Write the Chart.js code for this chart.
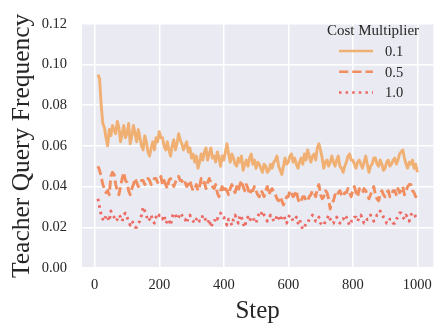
<!DOCTYPE html>
<html>
<head>
<meta charset="utf-8">
<script src="https://cdn.jsdelivr.net/npm/chart.js@4"></script>
<style>
  html, body { margin: 0; padding: 0; background: #fff; }
  #wrap { width: 440px; height: 330px; }
</style>
</head>
<body>
<div id="wrap"><canvas id="chart" width="440" height="330"></canvas></div>
<script>
/* Teacher query frequency vs step, per cost multiplier */

const steps = [
  10, 15, 20, 25, 30, 35, 40, 45, 50, 55,
  60, 65, 70, 75, 80, 85, 90, 95, 100, 105,
  110, 115, 120, 125, 130, 135, 140, 145, 150, 155,
  160, 165, 170, 175, 180, 185, 190, 195, 200, 205,
  210, 215, 220, 225, 230, 235, 240, 245, 250, 255,
  260, 265, 270, 275, 280, 285, 290, 295, 300, 305,
  310, 315, 320, 325, 330, 335, 340, 345, 350, 355,
  360, 365, 370, 375, 380, 385, 390, 395, 400, 405,
  410, 415, 420, 425, 430, 435, 440, 445, 450, 455,
  460, 465, 470, 475, 480, 485, 490, 495, 500, 505,
  510, 515, 520, 525, 530, 535, 540, 545, 550, 555,
  560, 565, 570, 575, 580, 585, 590, 595, 600, 605,
  610, 615, 620, 625, 630, 635, 640, 645, 650, 655,
  660, 665, 670, 675, 680, 685, 690, 695, 700, 705,
  710, 715, 720, 725, 730, 735, 740, 745, 750, 755,
  760, 765, 770, 775, 780, 785, 790, 795, 800, 805,
  810, 815, 820, 825, 830, 835, 840, 845, 850, 855,
  860, 865, 870, 875, 880, 885, 890, 895, 900, 905,
  910, 915, 920, 925, 930, 935, 940, 945, 950, 955,
  960, 965, 970, 975, 980, 985, 990, 995, 1000];

// cost multiplier 0.1
const freq01 = [
  0.095, 0.093, 0.080, 0.071, 0.069, 0.064, 0.060, 0.068, 0.065, 0.070,
  0.068, 0.066, 0.072, 0.069, 0.062, 0.066, 0.070, 0.064, 0.066, 0.071,
  0.061, 0.065, 0.070, 0.066, 0.062, 0.068, 0.064, 0.060, 0.058, 0.065,
  0.062, 0.057, 0.055, 0.059, 0.062, 0.058, 0.064, 0.062, 0.067, 0.064,
  0.064, 0.060, 0.058, 0.062, 0.058, 0.055, 0.060, 0.063, 0.058, 0.061,
  0.066, 0.063, 0.061, 0.058, 0.060, 0.062, 0.057, 0.059, 0.054, 0.056,
  0.052, 0.055, 0.049, 0.052, 0.056, 0.053, 0.057, 0.059, 0.053, 0.056,
  0.059, 0.054, 0.055, 0.052, 0.057, 0.054, 0.050, 0.055, 0.053, 0.057,
  0.061, 0.056, 0.052, 0.056, 0.054, 0.051, 0.050, 0.054, 0.052, 0.055,
  0.048, 0.051, 0.053, 0.050, 0.054, 0.056, 0.051, 0.053, 0.049, 0.052,
  0.051, 0.049, 0.047, 0.051, 0.050, 0.047, 0.048, 0.051, 0.049, 0.052,
  0.053, 0.055, 0.050, 0.048, 0.046, 0.050, 0.054, 0.051, 0.052, 0.055,
  0.056, 0.052, 0.054, 0.051, 0.049, 0.052, 0.054, 0.051, 0.056, 0.053,
  0.058, 0.055, 0.052, 0.055, 0.056, 0.053, 0.059, 0.061, 0.058, 0.054,
  0.049, 0.052, 0.053, 0.050, 0.052, 0.055, 0.052, 0.050, 0.053, 0.055,
  0.050, 0.049, 0.047, 0.050, 0.052, 0.055, 0.056, 0.053, 0.053, 0.051,
  0.049, 0.052, 0.053, 0.051, 0.049, 0.052, 0.055, 0.051, 0.047, 0.050,
  0.051, 0.054, 0.054, 0.051, 0.050, 0.053, 0.051, 0.048, 0.049, 0.052,
  0.053, 0.050, 0.051, 0.053, 0.054, 0.051, 0.053, 0.056, 0.057, 0.058,
  0.054, 0.051, 0.049, 0.052, 0.051, 0.053, 0.049, 0.051, 0.047];

// cost multiplier 0.5
const freq05 = [
  0.050, 0.048, 0.045, 0.041, 0.039, 0.037, 0.038, 0.036, 0.045, 0.047,
  0.046, 0.041, 0.038, 0.036, 0.040, 0.044, 0.047, 0.043, 0.042, 0.038,
  0.036, 0.039, 0.041, 0.044, 0.042, 0.040, 0.041, 0.043, 0.043, 0.041,
  0.042, 0.044, 0.043, 0.041, 0.042, 0.044, 0.044, 0.042, 0.043, 0.045,
  0.041, 0.043, 0.041, 0.039, 0.043, 0.044, 0.042, 0.040, 0.042, 0.044,
  0.045, 0.043, 0.043, 0.041, 0.042, 0.040, 0.041, 0.043, 0.040, 0.038,
  0.039, 0.041, 0.038, 0.040, 0.044, 0.042, 0.042, 0.039, 0.042, 0.044,
  0.042, 0.040, 0.039, 0.041, 0.037, 0.035, 0.038, 0.040, 0.037, 0.039,
  0.038, 0.036, 0.039, 0.041, 0.039, 0.037, 0.040, 0.038, 0.041, 0.043,
  0.040, 0.038, 0.041, 0.039, 0.036, 0.038, 0.038, 0.040, 0.038, 0.036,
  0.035, 0.038, 0.037, 0.035, 0.038, 0.040, 0.036, 0.038, 0.039, 0.037,
  0.036, 0.034, 0.033, 0.035, 0.033, 0.031, 0.033, 0.035, 0.035, 0.038,
  0.037, 0.035, 0.036, 0.038, 0.034, 0.032, 0.033, 0.035, 0.035, 0.033,
  0.033, 0.035, 0.036, 0.038, 0.037, 0.035, 0.039, 0.041, 0.036, 0.034,
  0.035, 0.038, 0.037, 0.034, 0.029, 0.032, 0.033, 0.036, 0.035, 0.037,
  0.038, 0.036, 0.035, 0.037, 0.037, 0.039, 0.037, 0.035, 0.038, 0.040,
  0.037, 0.035, 0.039, 0.037, 0.037, 0.039, 0.038, 0.036, 0.034, 0.036,
  0.038, 0.040, 0.036, 0.034, 0.033, 0.036, 0.038, 0.036, 0.035, 0.037,
  0.038, 0.035, 0.036, 0.038, 0.038, 0.036, 0.039, 0.037, 0.038, 0.040,
  0.036, 0.038, 0.040, 0.041, 0.041, 0.038, 0.037, 0.035, 0.036];

// cost multiplier 1.0
const freq10 = [
  0.034, 0.030, 0.026, 0.024, 0.023, 0.026, 0.025, 0.023, 0.028, 0.026,
  0.025, 0.023, 0.024, 0.026, 0.025, 0.023, 0.026, 0.027, 0.025, 0.023,
  0.021, 0.023, 0.022, 0.020, 0.020, 0.022, 0.023, 0.026, 0.030, 0.028,
  0.026, 0.023, 0.024, 0.026, 0.023, 0.022, 0.025, 0.024, 0.026, 0.025,
  0.024, 0.026, 0.022, 0.023, 0.024, 0.021, 0.025, 0.027, 0.026, 0.024,
  0.025, 0.027, 0.026, 0.024, 0.024, 0.022, 0.025, 0.026, 0.024, 0.023,
  0.022, 0.024, 0.025, 0.023, 0.023, 0.026, 0.025, 0.023, 0.022, 0.024,
  0.020, 0.022, 0.022, 0.025, 0.024, 0.026, 0.027, 0.025, 0.025, 0.023,
  0.021, 0.024, 0.023, 0.021, 0.024, 0.026, 0.024, 0.022, 0.026, 0.025,
  0.022, 0.020, 0.024, 0.025, 0.023, 0.025, 0.025, 0.023, 0.022, 0.025,
  0.027, 0.026, 0.028, 0.026, 0.025, 0.023, 0.024, 0.026, 0.025, 0.023,
  0.023, 0.026, 0.025, 0.023, 0.025, 0.026, 0.024, 0.022, 0.025, 0.026,
  0.025, 0.023, 0.024, 0.025, 0.022, 0.024, 0.021, 0.019, 0.020, 0.022,
  0.022, 0.024, 0.025, 0.026, 0.025, 0.023, 0.023, 0.025, 0.022, 0.021,
  0.021, 0.023, 0.024, 0.026, 0.024, 0.022, 0.022, 0.024, 0.025, 0.023,
  0.022, 0.024, 0.024, 0.026, 0.025, 0.023, 0.021, 0.023, 0.023, 0.025,
  0.025, 0.023, 0.025, 0.026, 0.024, 0.022, 0.022, 0.024, 0.024, 0.026,
  0.025, 0.023, 0.024, 0.026, 0.026, 0.028, 0.027, 0.025, 0.024, 0.022,
  0.022, 0.024, 0.024, 0.022, 0.022, 0.024, 0.025, 0.027, 0.027, 0.025,
  0.024, 0.026, 0.025, 0.023, 0.026, 0.027, 0.027, 0.025, 0.024];

const seriesNames = ['0.1', '0.5', '1.0'];
const xTicks = [0, 200, 400, 600, 800, 1000];
const yTicks = [0, 0.02, 0.04, 0.06, 0.08, 0.10, 0.12];

const SERIF = "'Liberation Serif', 'Times New Roman', serif";
const BG = '#EAEAF2';
const TEXT = '#262626';
const LINE_COLORS = ['#F0B073', '#F08E60', '#EC6A63'];
const DASHES = [[], [9.25, 4], [2.5, 4.1]];

const toPoints = vals => vals.map((v, i) => ({ x: steps[i], y: v }));

// plot background like seaborn darkgrid
const plotBackground = {
  id: 'plotBackground',
  beforeDraw(chart) {
    const { ctx, chartArea: a } = chart;
    ctx.save();
    ctx.fillStyle = BG;
    ctx.fillRect(a.left, a.top, a.right - a.left, a.bottom - a.top);
    ctx.restore();
  }
};

// legend drawn inside the axes, upper right
const innerLegend = {
  id: 'innerLegend',
  afterDraw(chart) {
    const { ctx } = chart;
    ctx.save();
    ctx.fillStyle = TEXT;
    ctx.font = '15px ' + SERIF;
    ctx.textAlign = 'center';
    ctx.textBaseline = 'middle';
    ctx.fillText('Cost Multiplier', 373, 31);
    ctx.font = '14.5px ' + SERIF;
    ctx.textAlign = 'left';
    chart.data.datasets.forEach((ds, i) => {
      const y = 51 + i * 20.7;
      ctx.strokeStyle = ds.borderColor;
      ctx.lineWidth = 2.5;
      ctx.setLineDash(ds.borderDash);
      ctx.beginPath();
      ctx.moveTo(339, y);
      ctx.lineTo(373, y);
      ctx.stroke();
      ctx.setLineDash([]);
      ctx.fillStyle = TEXT;
      ctx.fillText(ds.label, 385, y + 1);
    });
    ctx.restore();
  }
};

const datasets = [freq01, freq05, freq10].map((vals, i) => ({
  label: seriesNames[i],
  data: toPoints(vals),
  borderColor: LINE_COLORS[i],
  borderWidth: 2.9,
  borderDash: DASHES[i],
  borderCapStyle: 'butt',
  borderJoinStyle: 'round',
  pointRadius: 0,
  tension: 0,
  fill: false
}));

new Chart(document.getElementById('chart'), {
  type: 'line',
  data: { datasets },
  options: {
    responsive: false,
    animation: false,
    layout: { padding: { left: 0, right: 4, top: 11, bottom: 0 } },
    plugins: {
      legend: { display: false },
      tooltip: { enabled: false }
    },
    scales: {
      x: {
        type: 'linear',
        min: -39.5,
        max: 1049.5,
        afterBuildTicks: s => { s.ticks = xTicks.map(v => ({ value: v })); },
        afterFit: s => { s.height = 62; },
        grid: { color: '#ffffff', lineWidth: 1.5, drawTicks: false },
        border: { display: false },
        ticks: {
          padding: 8,
          color: TEXT,
          font: { family: SERIF, size: 14.5 },
          maxRotation: 0,
          callback: v => String(v)
        },
        title: {
          display: true,
          text: 'Step',
          color: TEXT,
          font: { family: SERIF, size: 25 },
          padding: { top: 0, bottom: 4 }
        }
      },
      y: {
        min: 0,
        max: 0.12,
        afterBuildTicks: s => { s.ticks = yTicks.map(v => ({ value: v })); },
        afterFit: s => { s.width = 82; },
        grid: { color: '#ffffff', lineWidth: 1.5, drawTicks: false },
        border: { display: false },
        ticks: {
          padding: 15,
          color: TEXT,
          font: { family: SERIF, size: 14.5 },
          callback: v => v.toFixed(2)
        },
        title: {
          display: true,
          text: 'Teacher Query Frequency',
          color: TEXT,
          font: { family: SERIF, size: 25.5 },
          padding: { top: 7, bottom: 0 }
        }
      }
    }
  },
  plugins: [plotBackground, innerLegend]
});
</script>
</body>
</html>
